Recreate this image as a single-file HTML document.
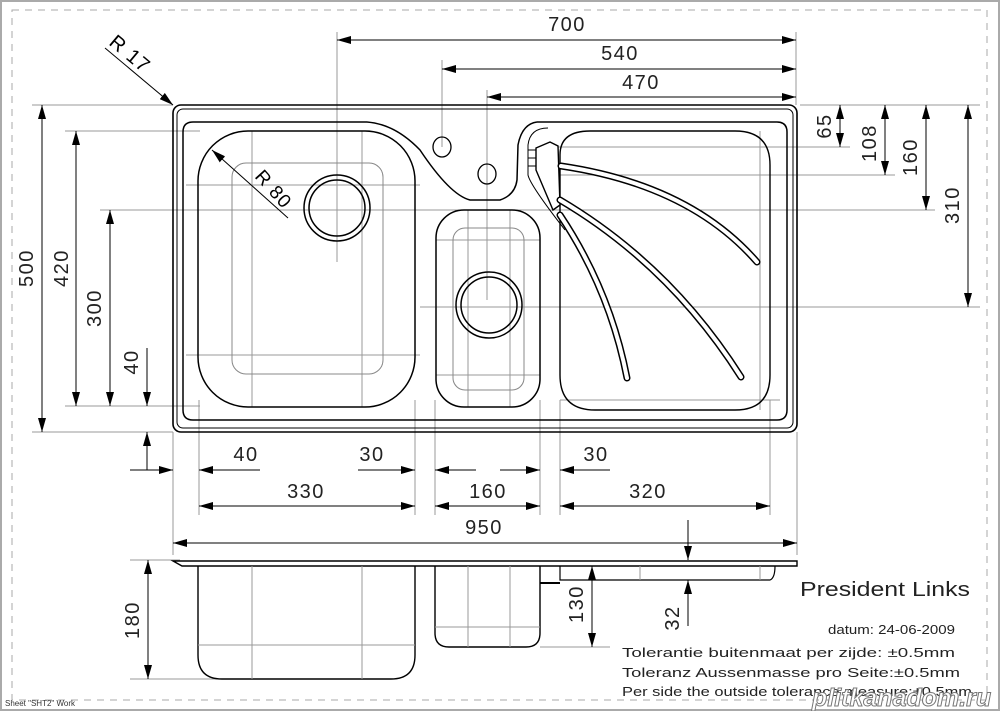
<!DOCTYPE html>
<html><head><meta charset="utf-8"><style>
html,body{margin:0;padding:0;background:#fff;}
svg{display:block;font-family:"Liberation Sans",sans-serif;}
</style></head><body>
<svg width="1000" height="711" viewBox="0 0 1000 711" xmlns="http://www.w3.org/2000/svg">
<defs>
<marker id="a" markerWidth="14" markerHeight="8" refX="14" refY="4" orient="auto-start-reverse" markerUnits="userSpaceOnUse"><path d="M0,0 L14,4 L0,8 Z" fill="#000"/></marker>
</defs>
<rect x="1" y="1" width="998" height="709" fill="none" stroke="#aaa" stroke-width="2"/>
<rect x="12" y="10" width="975" height="690" fill="none" stroke="#aaa" stroke-width="1" stroke-dasharray="7,6"/>

<g stroke="#999" stroke-width="1" fill="none">
<line x1="337" y1="32" x2="337" y2="262"/>
<line x1="442" y1="60" x2="442" y2="147"/>
<line x1="487" y1="90" x2="487" y2="300"/>
<line x1="796" y1="32" x2="796" y2="105"/>
<line x1="32" y1="105" x2="173" y2="105"/>
<line x1="800" y1="105" x2="980" y2="105"/>
<line x1="65" y1="131" x2="200" y2="131"/>
<line x1="540" y1="147" x2="850" y2="147"/>
<line x1="540" y1="175" x2="895" y2="175"/>
<line x1="100" y1="210" x2="935" y2="210"/>
<line x1="420" y1="307" x2="980" y2="307"/>
<line x1="65" y1="406" x2="200" y2="406"/>
<line x1="32" y1="432" x2="173" y2="432"/>
<line x1="173" y1="432" x2="173" y2="555"/>
<line x1="797" y1="432" x2="797" y2="555"/>
<line x1="199" y1="400" x2="199" y2="515"/>
<line x1="415" y1="400" x2="415" y2="515"/>
<line x1="435" y1="400" x2="435" y2="515"/>
<line x1="540" y1="400" x2="540" y2="515"/>
<line x1="560" y1="400" x2="560" y2="515"/>
<line x1="770" y1="400" x2="770" y2="515"/>
<line x1="186" y1="185" x2="420" y2="185"/>
<line x1="186" y1="355" x2="420" y2="355"/>
<line x1="252" y1="131" x2="252" y2="407"/>
<line x1="362" y1="131" x2="362" y2="407"/>
<line x1="436" y1="240" x2="540" y2="240"/>
<line x1="436" y1="375" x2="540" y2="375"/>
<line x1="468" y1="210" x2="468" y2="407"/>
<line x1="510" y1="210" x2="510" y2="407"/>
<line x1="560" y1="400" x2="780" y2="400"/>
<line x1="760" y1="131" x2="760" y2="410"/>
<line x1="130" y1="560" x2="180" y2="560"/>
<line x1="130" y1="679" x2="330" y2="679"/>
<line x1="540" y1="647" x2="610" y2="647"/>
</g>

<g fill="none" stroke="#000">
<rect x="173" y="105" width="624" height="327" rx="8" stroke-width="1.6"/>
<rect x="177" y="109" width="616" height="319" rx="6" stroke-width="1"/>
<path d="M367,122 L193,122 Q183,122 183,132 L183,410 Q183,420 193,420 L777,420 Q787,420 787,410 L787,132 Q787,122 777,122 L537,122" stroke-width="1.5"/>
<path d="M367,122 Q395,124 420,150 Q450,195 470,200 L500,200 Q515,195 517,180 L518,145 Q522,124 537,122" stroke-width="1.5"/>
<rect x="198" y="131" width="217" height="276" rx="50" stroke-width="1.5"/>
<rect x="232" y="163" width="151" height="211" rx="14" stroke="#888" stroke-width="1"/>
<circle cx="337" cy="208" r="33" stroke-width="1.5"/>
<circle cx="337" cy="208" r="28" stroke-width="1.5"/>
<rect x="436" y="210" width="104" height="197" rx="28" stroke-width="1.5"/>
<rect x="453" y="228" width="71" height="162" rx="12" stroke="#888" stroke-width="1"/>
<circle cx="489" cy="305" r="33" stroke-width="1.5"/>
<circle cx="489" cy="305" r="28" stroke-width="1.5"/>
<ellipse cx="442" cy="147" rx="9" ry="10" stroke-width="1.3"/>
<ellipse cx="487" cy="174" rx="9" ry="10" stroke-width="1.3"/>
<path d="M560,155 Q560,131 590,131 L735,131 Q770,131 770,165 L770,375 Q770,410 735,410 L595,410 Q560,410 560,375 Z" stroke-width="1.4"/>
<path d="M565,230 Q530,185 528,175 L528,145 Q530,128 548,128" stroke-width="1"/>
<path d="M536,148 L550,142 L558,146 L560,205 L553,210 L536,170 Z" stroke-width="1.4" fill="#fff"/>
<line x1="528" y1="150" x2="536" y2="150" stroke-width="1"/>
<line x1="528" y1="158" x2="536" y2="158" stroke-width="1"/>
<line x1="528" y1="166" x2="536" y2="166" stroke-width="1"/>
</g>
<g fill="none" stroke-linecap="round">
<path d="M561,166 Q690,185 757,262" stroke="#000" stroke-width="7"/>
<path d="M561,166 Q690,185 757,262" stroke="#fff" stroke-width="4"/>
<path d="M560,200 Q670,265 741,377" stroke="#000" stroke-width="7"/>
<path d="M560,200 Q670,265 741,377" stroke="#fff" stroke-width="4"/>
<path d="M560,215 Q610,290 627,378" stroke="#000" stroke-width="7"/>
<path d="M560,215 Q610,290 627,378" stroke="#fff" stroke-width="4"/>
</g>

<g stroke="#000" stroke-width="1" fill="none">
<line x1="105" y1="48" x2="173" y2="105" marker-end="url(#a)"/>
<line x1="288" y1="218" x2="212" y2="150" marker-end="url(#a)"/>
</g>
<text x="0" y="0" font-size="20" letter-spacing="1" transform="translate(108,44) rotate(40)">R  17</text>
<text x="0" y="0" font-size="19" letter-spacing="1" transform="translate(254,177) rotate(48)">R  80</text>

<g stroke="#000" stroke-width="1" fill="none">
<line x1="337" y1="40" x2="796" y2="40" marker-start="url(#a)" marker-end="url(#a)"/>
<line x1="442" y1="69" x2="796" y2="69" marker-start="url(#a)" marker-end="url(#a)"/>
<line x1="487" y1="97" x2="796" y2="97" marker-start="url(#a)" marker-end="url(#a)"/>
<line x1="840" y1="105" x2="840" y2="147" marker-start="url(#a)" marker-end="url(#a)"/>
<line x1="885" y1="105" x2="885" y2="175" marker-start="url(#a)" marker-end="url(#a)"/>
<line x1="926" y1="105" x2="926" y2="210" marker-start="url(#a)" marker-end="url(#a)"/>
<line x1="968" y1="105" x2="968" y2="307" marker-start="url(#a)" marker-end="url(#a)"/>
<line x1="42" y1="105" x2="42" y2="432" marker-start="url(#a)" marker-end="url(#a)"/>
<line x1="76" y1="131" x2="76" y2="406" marker-start="url(#a)" marker-end="url(#a)"/>
<line x1="110" y1="210" x2="110" y2="406" marker-start="url(#a)" marker-end="url(#a)"/>
<line x1="147" y1="348" x2="147" y2="406" marker-end="url(#a)"/>
<line x1="147" y1="470" x2="147" y2="432" marker-end="url(#a)"/>
<line x1="130" y1="470" x2="173" y2="470" marker-end="url(#a)"/>
<line x1="260" y1="470" x2="199" y2="470" marker-end="url(#a)"/>
<line x1="358" y1="470" x2="415" y2="470" marker-end="url(#a)"/>
<line x1="476" y1="470" x2="435" y2="470" marker-end="url(#a)"/>
<line x1="500" y1="470" x2="540" y2="470" marker-end="url(#a)"/>
<line x1="610" y1="470" x2="560" y2="470" marker-end="url(#a)"/>
<line x1="199" y1="506" x2="415" y2="506" marker-start="url(#a)" marker-end="url(#a)"/>
<line x1="435" y1="506" x2="540" y2="506" marker-start="url(#a)" marker-end="url(#a)"/>
<line x1="560" y1="506" x2="770" y2="506" marker-start="url(#a)" marker-end="url(#a)"/>
<line x1="173" y1="543" x2="797" y2="543" marker-start="url(#a)" marker-end="url(#a)"/>
<line x1="688" y1="520" x2="688" y2="560" marker-end="url(#a)"/>
<line x1="688" y1="626" x2="688" y2="580" marker-end="url(#a)"/>
<line x1="148" y1="560" x2="148" y2="679" marker-start="url(#a)" marker-end="url(#a)"/>
<line x1="592" y1="566" x2="592" y2="647" marker-start="url(#a)" marker-end="url(#a)"/>
</g>

<g fill="none" stroke="#000">
<path d="M173,561 L797,561 L797,566 L182,566 Z" stroke-width="1.4"/>
<path d="M198,566 L198,655 Q198,679 222,679 L391,679 Q415,679 415,655 L415,566" stroke-width="1.4"/>
<path d="M435,566 L435,633 Q435,647 449,647 L526,647 Q540,647 540,633 L540,566" stroke-width="1.4"/>
<path d="M560,566 L560,580 L770,580 Q775,578 775,566" stroke-width="1.2"/>
<path d="M540,583 L560,583" stroke-width="2"/>
</g>
<g stroke="#999" fill="none">
<line x1="252" y1="566" x2="252" y2="679"/><line x1="362" y1="566" x2="362" y2="679"/>
<line x1="198" y1="645" x2="415" y2="645"/>
<line x1="468" y1="566" x2="468" y2="647"/><line x1="510" y1="566" x2="510" y2="647"/>
<line x1="435" y1="627" x2="540" y2="627"/>
<line x1="640" y1="566" x2="640" y2="580"/><line x1="760" y1="566" x2="760" y2="580"/>
</g>

<g font-size="20" fill="#222" text-anchor="middle" letter-spacing="1.5">
<text x="567" y="31">700</text>
<text x="620" y="60">540</text>
<text x="641" y="89">470</text>
<text x="246" y="461">40</text>
<text x="372" y="461">30</text>
<text x="596" y="461">30</text>
<text x="306" y="498">330</text>
<text x="488" y="498">160</text>
<text x="648" y="498">320</text>
<text x="484" y="534">950</text>
<text transform="translate(831,126) rotate(-90)">65</text>
<text transform="translate(876,143) rotate(-90)">108</text>
<text transform="translate(917,157) rotate(-90)">160</text>
<text transform="translate(959,205) rotate(-90)">310</text>
<text transform="translate(33,268) rotate(-90)">500</text>
<text transform="translate(68,268) rotate(-90)">420</text>
<text transform="translate(101,308) rotate(-90)">300</text>
<text transform="translate(138,362) rotate(-90)">40</text>
<text transform="translate(139,620) rotate(-90)">180</text>
<text transform="translate(583,604) rotate(-90)">130</text>
<text transform="translate(679,618) rotate(-90)">32</text>
</g>
<text x="800" y="596" font-size="20" fill="#222" textLength="170" lengthAdjust="spacingAndGlyphs">President Links</text>
<text x="828" y="634" font-size="13" fill="#222" textLength="127" lengthAdjust="spacingAndGlyphs">datum: 24-06-2009</text>
<g font-size="13" fill="#222">
<text x="622" y="657" textLength="333" lengthAdjust="spacingAndGlyphs">Tolerantie buitenmaat per zijde: ±0.5mm</text>
<text x="622" y="677" textLength="338" lengthAdjust="spacingAndGlyphs">Toleranz Aussenmasse pro Seite:±0.5mm</text>
<text x="622" y="696" textLength="350" lengthAdjust="spacingAndGlyphs">Per side the outside tolerance measure:±0.5mm</text>
</g>
<text x="5" y="706" font-size="8" fill="#333">Sheet "SHT2" Work</text>
<text x="812" y="706" font-size="25" font-weight="bold" fill="#fff" stroke="#777" stroke-width="1" font-style="italic">plitkanadom.ru</text>
</svg>
</body></html>
